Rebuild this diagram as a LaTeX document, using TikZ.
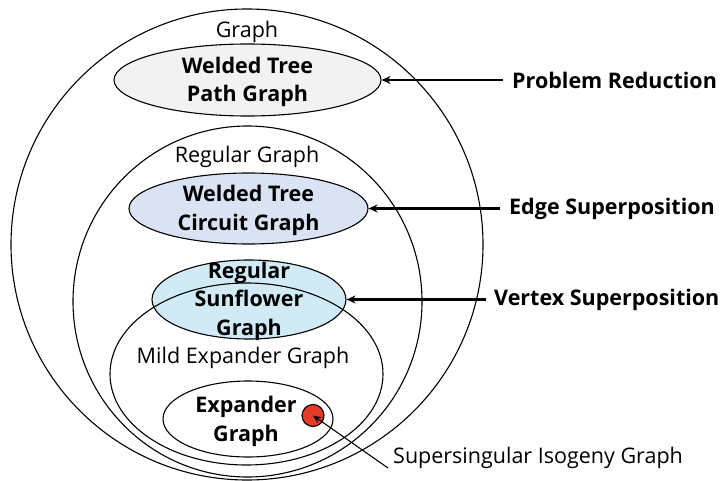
\documentclass[tikz,border=0pt]{standalone}
\usepackage{fontspec}
\setmainfont{Open Sans}
\usetikzlibrary{shapes.geometric,arrows.meta}
\definecolor{pathfill}{HTML}{F2F2F2}
\definecolor{circfill}{HTML}{DAE3F3}
\definecolor{sunfill}{HTML}{D0EAF6}
\definecolor{dotred}{HTML}{E63A2B}
\tikzset{
  set/.style={draw=black, line width=1.1pt, ellipse, inner sep=0pt},
  plain/.style={font=\fontsize{21.5}{26}\selectfont, inner sep=0pt},
  boldlbl/.style={font=\fontsize{21.5}{28.5}\selectfont\bfseries, align=center, inner sep=0pt},
  sidelbl/.style={font=\fontsize{21.5}{26}\selectfont\bfseries, anchor=west, inner sep=0pt},
  pointer/.style={draw=black, line width=2.2pt, -{Stealth[length=9pt,width=8pt]}},
  thinpointer/.style={draw=black, line width=1.1pt, -{Stealth[length=8pt,width=7pt]}}
}
\begin{document}
\begin{tikzpicture}[x=1pt,y=-1pt]
\useasboundingbox (0,0) rectangle (722,481);

% nested graph classes
\node[set, minimum width=472pt, minimum height=471pt] (graph) at (247,244.5) {};
\node[set, fill=pathfill, minimum width=267pt, minimum height=72pt] (path) at (247.5,80) {};
\node[set, minimum width=349pt, minimum height=351pt] (regular) at (247.5,301.5) {};
\node[set, fill=circfill, minimum width=239pt, minimum height=71pt] (circuit) at (248.5,208.5) {};
\node[set, fill=sunfill, minimum width=194pt, minimum height=79pt] (sunflower) at (249,299.5) {};
\node[set, minimum width=273pt, minimum height=182pt] (mild) at (246.5,374) {};
\node[set, minimum width=170pt, minimum height=76pt] (expander) at (248,419) {};
\node[draw=black, line width=1.1pt, circle, fill=dotred, minimum size=22pt, inner sep=0pt] (iso) at (313,415.5) {};

% class names
\node[plain] (tgraph) at (247,32) {Graph};
\node[plain] (tregular) at (247,157) {Regular Graph};
\node[plain] (tmild) at (243,358) {Mild Expander Graph};
\node[boldlbl] (tpath) at (247.5,82) {Welded Tree\\Path Graph};
\node[boldlbl] (tcircuit) at (248.5,210.5) {Welded Tree\\Circuit Graph};
\node[boldlbl] (tsun) at (249,301) {Regular\\Sunflower\\Graph};
\node[boldlbl] (texp) at (246,421.5) {Expander\\Graph};

% techniques on the right, each level with its ellipse
\node[sidelbl] (pr) at (512,80) {Problem Reduction};
\node[sidelbl] (es) at (509,208.5) {Edge Superposition};
\node[sidelbl] (vs) at (494,299.5) {Vertex Superposition};
\node[plain, anchor=west] (isolbl) at (393,458) {Supersingular Isogeny Graph};

\draw[pointer] ([xshift=-9pt]pr.west) -- (path.east);
\draw[pointer] ([xshift=-9pt]es.west) -- (circuit.east);
\draw[pointer] ([xshift=-8pt]vs.west) -- (sunflower.east);
\draw[thinpointer] ([xshift=-5pt,yshift=-10pt]isolbl.west) -- (iso.center);
\end{tikzpicture}
\end{document}
